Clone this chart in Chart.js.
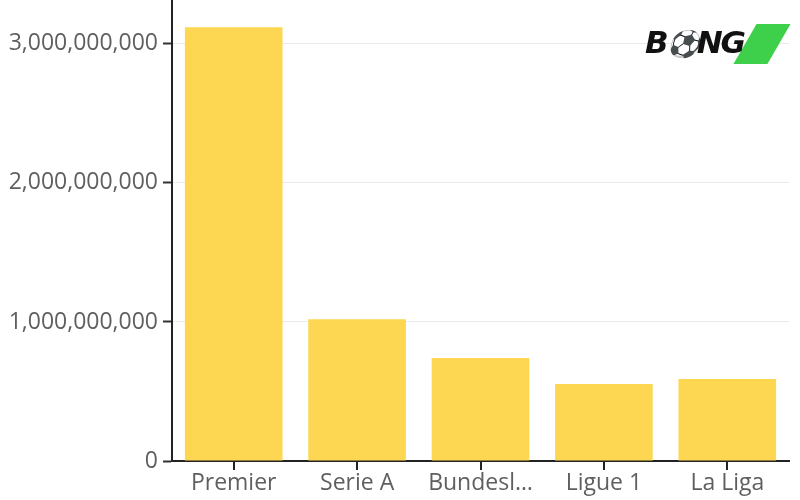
<!DOCTYPE html>
<html lang="en">
<head>
    <meta charset="UTF-8">
    <title>League revenue</title>
    <script src="https://cdn.jsdelivr.net/npm/chart.js"></script>
    <style>
        body {
            margin: 0;
            padding: 0;
            background: #fff;
            overflow: hidden;
        }
        .wrap {
            position: relative;
            width: 800px;
            height: 500px;
            overflow: hidden;
        }
        #chart {
            position: absolute;
            left: 0;
            top: -18px;
        }
        .logo {
            position: absolute;
            left: 645px;
            top: 24px;
            height: 42px;
            width: 145px;
        }
        .logo .txt {
            position: absolute;
            left: 0;
            top: 0;
            font-family: "DejaVu Sans", sans-serif;
            font-weight: bold;
            font-style: italic;
            font-size: 31px;
            letter-spacing: -2px;
            color: #111;
            z-index: 2;
        }
        .logo .txt .ball {
            font-size: 26px;
        }
        .logo .green {
            position: absolute;
            left: 100px;
            top: 0;
            width: 34px;
            height: 40px;
            background: #3ed04a;
            transform: skewX(-30deg);
            z-index: 1;
        }
    </style>
</head>
<body>
    <div class="wrap">
        <canvas id="chart" width="800" height="518"></canvas>
        <div class="logo"><span class="txt">B<span class="ball">&#9917;</span>NG</span><div class="green"></div></div>
    </div>

    <script>
        // values
        const leagues = [['Premier', 'League'], 'Serie A', 'Bundesl…', 'Ligue 1', 'La Liga'];
        const revenue = [3120000000, 1020000000, 740000000, 553000000, 590000000];
        const yTicks = [0, 1000000000, 2000000000, 3000000000];

        const ctx = document.getElementById('chart').getContext('2d');
        new Chart(ctx, {
            type: 'bar',
            data: {
                labels: leagues,
                datasets: [{
                    data: revenue,
                    backgroundColor: '#fdd752',
                    barPercentage: 0.86,
                    categoryPercentage: 0.92
                }]
            },
            options: {
                responsive: false,
                animation: false,
                layout: { padding: { top: 0, right: 11, left: 0, bottom: 0 } },
                plugins: {
                    legend: { display: false },
                    tooltip: { enabled: false }
                },
                scales: {
                    x: {
                        afterFit: s => { s.height = 39; },
                        grid: { offset: false, drawOnChartArea: false, tickLength: 9, tickColor: '#222', tickWidth: 2, lineWidth: 2, color: '#222' },
                        border: { color: '#222', width: 2 },
                        ticks: {
                            color: '#5f5f5f',
                            padding: 0,
                            font: { family: 'Open Sans', size: 23 },
                            maxRotation: 0,
                            autoSkip: false
                        }
                    },
                    y: {
                        min: 0,
                        max: 3310000000,
                        afterFit: s => { s.width = 172; },
                        afterBuildTicks: s => { s.ticks = yTicks.map(v => ({ value: v })); },
                        grid: { color: '#ebebeb', tickLength: 9, tickColor: '#333', tickWidth: 2 },
                        border: { color: '#222', width: 2 },
                        ticks: {
                            color: '#5f5f5f',
                            padding: 5,
                            font: { family: 'Open Sans', size: 23 },
                            callback: v => v.toLocaleString('en-US')
                        }
                    }
                }
            }
        });
    </script>
</body>
</html>
